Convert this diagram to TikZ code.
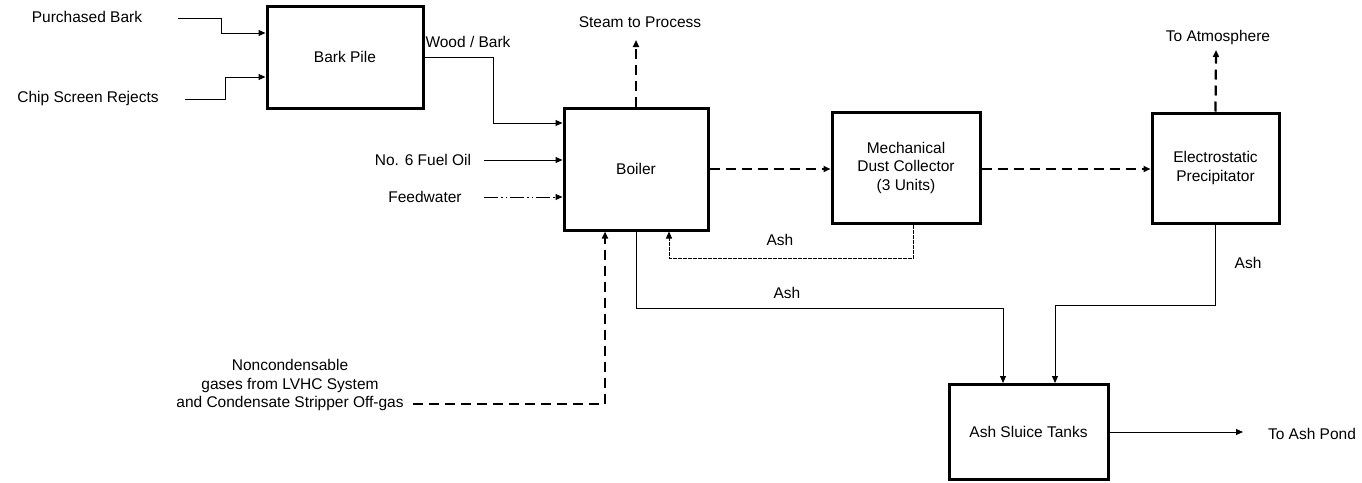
\documentclass[tikz,border=0pt]{standalone}
\usepackage{fontspec}
\setmainfont{Liberation Sans}
\usetikzlibrary{arrows.meta}
\begin{document}
\begin{tikzpicture}[x=1pt,y=-1pt,
  font=\fontsize{15.5}{18.5}\selectfont,
  box/.style={draw, line width=3pt, inner sep=0pt, align=center},
  lbl/.style={inner sep=0pt, align=center},
  flow/.style={line width=1pt, -{Triangle[length=7pt,width=6pt]}},
  gas/.style={line width=2.2pt, dash pattern=on 10pt off 6pt, -{Triangle[length=7pt,width=6pt]}},
  dustash/.style={line width=1pt, dash pattern=on 4pt off 1pt, -{Triangle[length=7pt,width=6pt]}},
  water/.style={line width=1pt, dash pattern=on 14pt off 3pt on 1.5pt off 3pt on 1.5pt off 3pt, -{Triangle[length=7pt,width=6pt]}}
]
\useasboundingbox (0,0) rectangle (1362,482);

% boxes
\node[box, minimum width=156pt, minimum height=102pt] (bark) at (345,57) {Bark Pile};
\node[box, minimum width=144pt, minimum height=122pt] (boiler) at (636,169) {Boiler};
\node[box, minimum width=148pt, minimum height=111pt] (mdc) at (906,167.5) {Mechanical\\Dust Collector\\(3 Units)};
\node[box, minimum width=127pt, minimum height=110pt] (esp) at (1215.5,168) {Electrostatic\\Precipitator};
\node[box, minimum width=159pt, minimum height=95pt] (ast) at (1028.5,432) {Ash Sluice Tanks};

% labels
\node[lbl] (pbt) at (87,17) {Purchased Bark};
\node[lbl] (cst) at (88,98) {Chip Screen Rejects};
\node[lbl] (wbt) at (468,42) {Wood / Bark};
\node[lbl] (fot) at (423,160) {No. 6 Fuel Oil};
\node[lbl] (fwt) at (425,197) {Feedwater};
\node[lbl] (stt) at (640,22) {Steam to Process};
\node[lbl] (atmt) at (1218,37) {To Atmosphere};
\node[lbl] (ash1) at (780,240) {Ash};
\node[lbl] (ash2) at (787,293) {Ash};
\node[lbl] (ash3) at (1248,263) {Ash};
\node[lbl] (pondt) at (1312,434) {To Ash Pond};
\node[lbl] (nct) at (290,385) {Noncondensable\\gases from LVHC System\\and Condensate Stripper Off-gas};

% free ends
\coordinate (pb0) at (178,18);
\coordinate (cs0) at (185,99);
\coordinate (fo0) at (484,160);
\coordinate (fw0) at (484,197);
\coordinate (st1) at (636,40);
\coordinate (atm1) at (1216,50);
\coordinate (pond1) at (1243,432);
\coordinate (nc0) at (413,404);

% connectors
\draw[flow] (pb0) -- (221,18) |- (bark.west |- 0,33);
\draw[flow] (cs0) -- (225,99) |- (bark.west |- 0,77);
\draw[flow] (bark.east) -| (493,123) -- (boiler.west |- 0,123);
\draw[flow] (fo0) -- (boiler.west |- fo0);
\draw[water] (fw0) -- (boiler.west |- fw0);
\draw[gas] (boiler.north) -- (st1);
\draw[gas] (boiler.east) -- (mdc.west |- boiler.east);
\draw[gas] (mdc.east |- boiler.east) -- (esp.west |- boiler.east);
\draw[gas] (esp.north) -- (atm1);
\draw[flow] (esp.south) |- (1055,305) -- (1055,0 |- ast.north);
\draw[flow] (boiler.south) |- (1003,308) -- (1003,0 |- ast.north);
\draw[dustash] (913,0 |- mdc.south) |- (669,258) -- (669,0 |- boiler.south);
\draw[gas] (nc0) -- (605,404) -- (605,0 |- boiler.south);
\draw[flow] (ast.east) -- (ast.east -| pond1);
\end{tikzpicture}
\end{document}
